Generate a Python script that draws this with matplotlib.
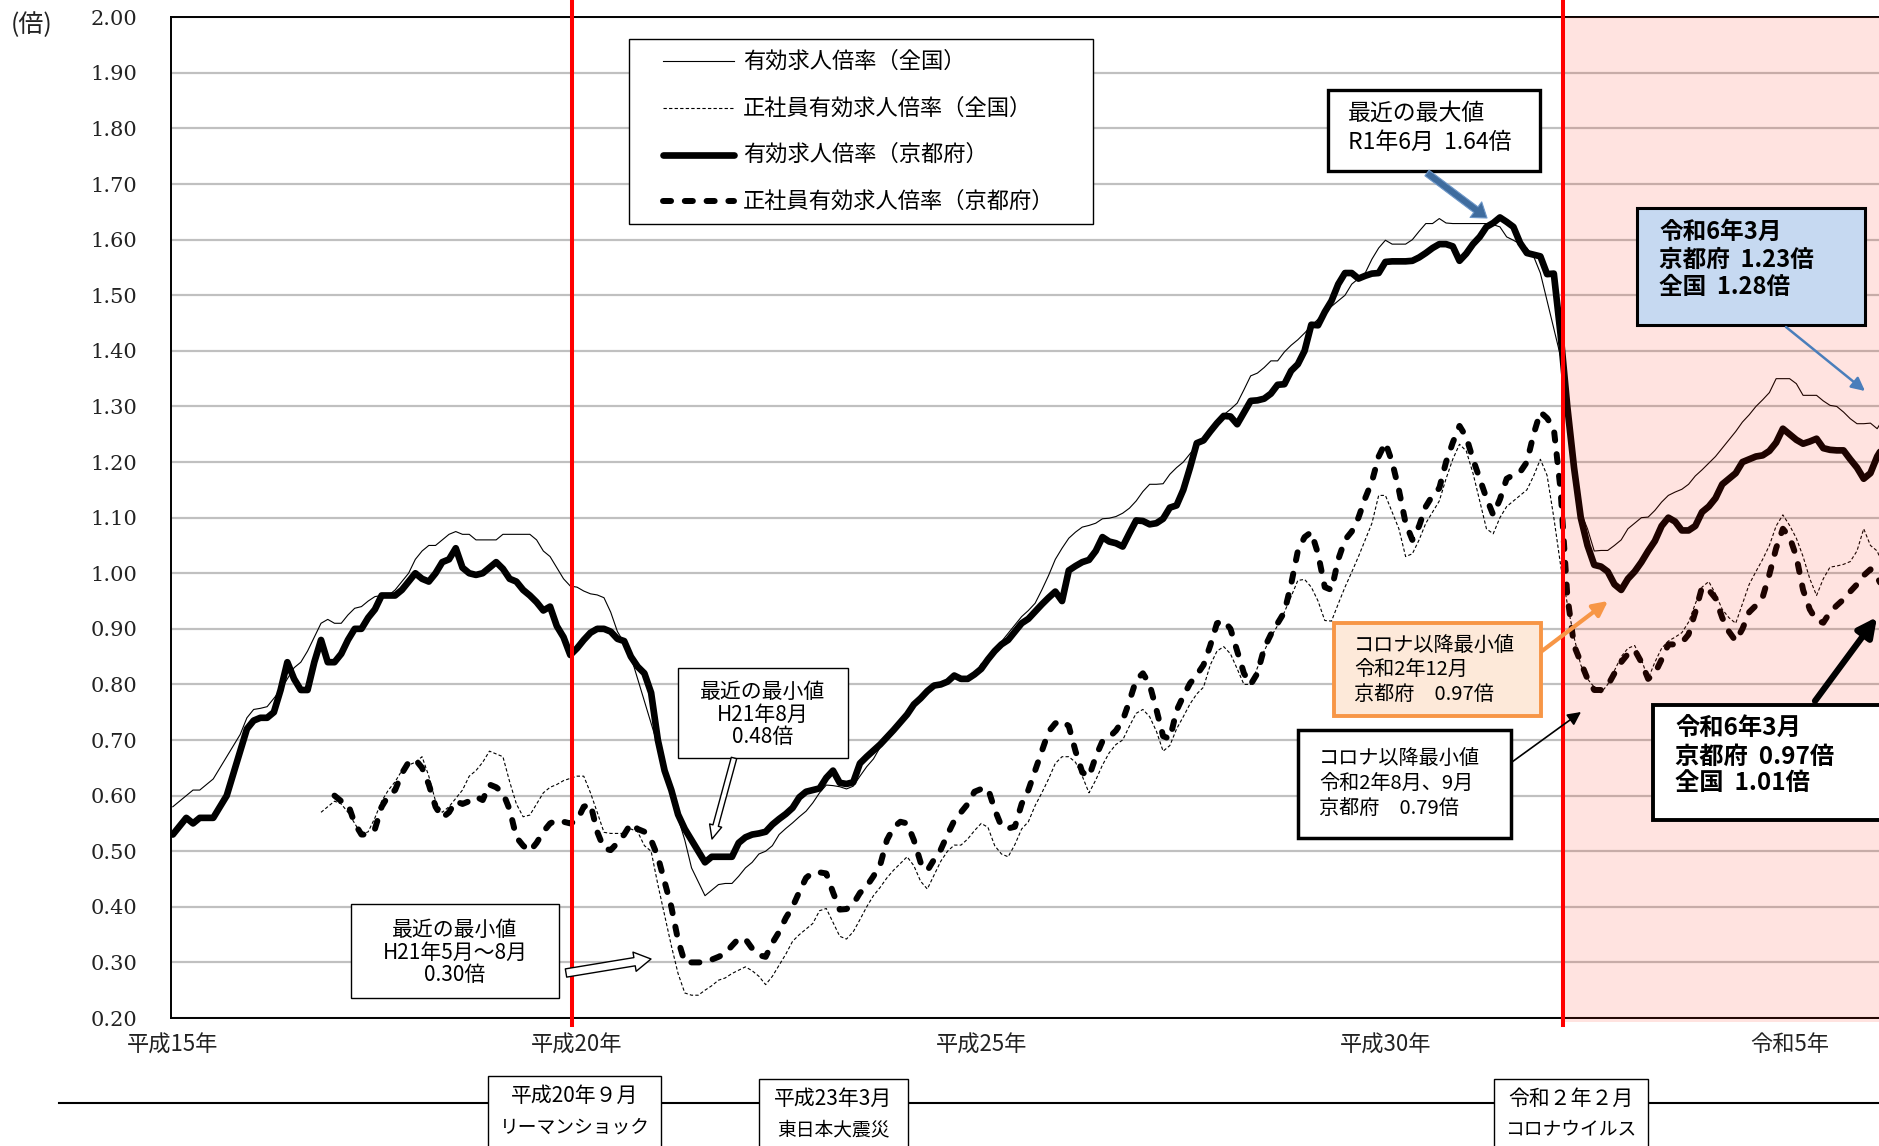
import numpy as np
import matplotlib.pyplot as plt
from matplotlib.patches import Rectangle, FancyArrowPatch
from matplotlib.lines import Line2D

plt.rcParams['font.family'] = ['Noto Sans CJK JP', 'DejaVu Sans']

W, H, DPI = 1879, 1146, 100

# 月次データ 平成15年1月〜令和6年3月
kyoto = [
    0.53, 0.545, 0.56, 0.55, 0.56, 0.56, 0.56, 0.58, 0.60, 0.64, 0.68, 0.72,        # H15
    0.735, 0.74, 0.74, 0.75, 0.79, 0.84, 0.81, 0.79, 0.79, 0.84, 0.88, 0.84,        # H16
    0.84, 0.855, 0.88, 0.90, 0.90, 0.92, 0.935, 0.96, 0.96, 0.96, 0.97, 0.985,      # H17
    1.00, 0.99, 0.985, 1.00, 1.02, 1.025, 1.045, 1.01, 1.00, 0.997, 1.00, 1.01,     # H18
    1.02, 1.008, 0.99, 0.985, 0.97, 0.96, 0.948, 0.933, 0.94, 0.905, 0.885, 0.853,  # H19
    0.865, 0.88, 0.893, 0.90, 0.90, 0.895, 0.882, 0.878, 0.85, 0.832, 0.82, 0.785, # H20
    0.70, 0.645, 0.61, 0.566, 0.54, 0.52, 0.50, 0.48, 0.49, 0.49, 0.49, 0.49,       # H21
    0.515, 0.525, 0.53, 0.532, 0.535, 0.548, 0.558, 0.567, 0.578, 0.597, 0.607, 0.61,
    0.613, 0.632, 0.645, 0.623, 0.621, 0.624, 0.658, 0.67, 0.681, 0.692, 0.705, 0.718,
    0.732, 0.746, 0.764, 0.775, 0.788, 0.798, 0.80, 0.805, 0.816, 0.81, 0.81, 0.818,
    0.828, 0.845, 0.86, 0.872, 0.88, 0.895, 0.91, 0.918, 0.931, 0.944, 0.956, 0.967,
    0.95, 1.005, 1.013, 1.02, 1.024, 1.04, 1.065, 1.057, 1.054, 1.048, 1.072, 1.095,
    1.094, 1.088, 1.09, 1.098, 1.118, 1.122, 1.15, 1.19, 1.234, 1.239, 1.255, 1.27,
    1.283, 1.282, 1.268, 1.289, 1.31, 1.311, 1.314, 1.323, 1.339, 1.34, 1.364, 1.376,
    1.40, 1.447, 1.446, 1.47, 1.49, 1.52, 1.54, 1.54, 1.53, 1.535, 1.539, 1.54,
    1.56, 1.561, 1.561, 1.561, 1.562, 1.568, 1.576, 1.585, 1.592, 1.592, 1.588, 1.562,
    1.575, 1.592, 1.605, 1.623, 1.63, 1.64, 1.632, 1.623, 1.594, 1.576, 1.573, 1.57,
    1.538, 1.539, 1.43, 1.30, 1.19, 1.10, 1.05, 1.015, 1.012, 1.003, 0.98, 0.97,     # R2
    0.99, 1.003, 1.02, 1.04, 1.058, 1.085, 1.10, 1.093, 1.077, 1.077, 1.085, 1.11,
    1.12, 1.135, 1.16, 1.17, 1.18, 1.20, 1.205, 1.21, 1.212, 1.22, 1.235, 1.26,
    1.25, 1.24, 1.233, 1.237, 1.242, 1.225, 1.222, 1.221, 1.221, 1.205, 1.19, 1.17,
    1.18, 1.21, 1.23,                                                               # R6
]

zenkoku = [
    0.58, 0.59, 0.60, 0.61, 0.61, 0.62, 0.63, 0.65, 0.67, 0.69, 0.71, 0.74,
    0.755, 0.757, 0.76, 0.775, 0.79, 0.81, 0.83, 0.84, 0.86, 0.885, 0.91, 0.917,
    0.91, 0.91, 0.925, 0.937, 0.94, 0.95, 0.958, 0.96, 0.96, 0.97, 0.985, 1.00,
    1.025, 1.04, 1.05, 1.05, 1.06, 1.07, 1.075, 1.07, 1.07, 1.06, 1.06, 1.06,
    1.06, 1.07, 1.07, 1.07, 1.07, 1.07, 1.06, 1.04, 1.03, 1.01, 0.99, 0.977,
    0.975, 0.968, 0.963, 0.961, 0.956, 0.93, 0.895, 0.875, 0.85, 0.81, 0.77, 0.73,
    0.69, 0.64, 0.60, 0.56, 0.52, 0.47, 0.445, 0.42, 0.43, 0.44, 0.442, 0.442,
    0.455, 0.47, 0.48, 0.495, 0.50, 0.51, 0.53, 0.541, 0.551, 0.562, 0.572, 0.587,
    0.605, 0.619, 0.618, 0.616, 0.612, 0.617, 0.635, 0.652, 0.666, 0.687, 0.701, 0.716,
    0.73, 0.742, 0.767, 0.78, 0.791, 0.794, 0.797, 0.808, 0.816, 0.811, 0.81, 0.818,
    0.837, 0.846, 0.861, 0.877, 0.892, 0.907, 0.922, 0.933, 0.946, 0.97, 0.996, 1.025,
    1.045, 1.063, 1.074, 1.083, 1.086, 1.09, 1.098, 1.099, 1.102, 1.108, 1.117, 1.13,
    1.147, 1.16, 1.16, 1.161, 1.178, 1.19, 1.20, 1.215, 1.23, 1.243, 1.256, 1.27,
    1.285, 1.295, 1.306, 1.33, 1.355, 1.36, 1.37, 1.382, 1.382, 1.398, 1.41, 1.42,
    1.432, 1.445, 1.457, 1.47, 1.48, 1.49, 1.50, 1.52, 1.53, 1.54, 1.565, 1.585,
    1.599, 1.592, 1.592, 1.592, 1.60, 1.615, 1.629, 1.629, 1.638, 1.63, 1.629, 1.629,
    1.629, 1.629, 1.629, 1.629, 1.627, 1.623, 1.605, 1.599, 1.592, 1.585, 1.57, 1.54,
    1.49, 1.44, 1.39, 1.32, 1.20, 1.11, 1.08, 1.04, 1.041, 1.041, 1.05, 1.06,
    1.08, 1.09, 1.10, 1.101, 1.113, 1.128, 1.14, 1.146, 1.151, 1.16, 1.175, 1.186,
    1.198, 1.21, 1.225, 1.24, 1.255, 1.272, 1.285, 1.30, 1.312, 1.325, 1.35, 1.35,
    1.35, 1.341, 1.32, 1.32, 1.32, 1.31, 1.302, 1.30, 1.29, 1.278, 1.269, 1.269,
    1.27, 1.26, 1.28,
]

# 正社員（全国）は平成16年11月から
zenkoku_seishain = [np.nan] * 22 + [
    0.57, 0.58,
    0.59, 0.585, 0.57, 0.55, 0.53, 0.535, 0.56, 0.59, 0.61, 0.625, 0.645, 0.655,
    0.66, 0.67, 0.635, 0.59, 0.57, 0.58, 0.595, 0.61, 0.635, 0.645, 0.66, 0.68,
    0.675, 0.67, 0.625, 0.585, 0.562, 0.565, 0.585, 0.605, 0.615, 0.62, 0.627, 0.631,
    0.635, 0.635, 0.605, 0.57, 0.534, 0.532, 0.532, 0.532, 0.54, 0.535, 0.51, 0.50,
    0.44, 0.385, 0.33, 0.28, 0.245, 0.241, 0.241, 0.25, 0.258, 0.268, 0.272, 0.28,
    0.286, 0.292, 0.285, 0.275, 0.26, 0.275, 0.295, 0.315, 0.338, 0.35, 0.36, 0.37,
    0.393, 0.397, 0.372, 0.347, 0.342, 0.355, 0.377, 0.40, 0.42, 0.435, 0.452, 0.466,
    0.478, 0.49, 0.474, 0.446, 0.432, 0.457, 0.482, 0.50, 0.511, 0.511, 0.522, 0.537,
    0.55, 0.543, 0.51, 0.495, 0.49, 0.512, 0.54, 0.553, 0.582, 0.605, 0.63, 0.658,
    0.67, 0.67, 0.66, 0.635, 0.605, 0.628, 0.655, 0.677, 0.692, 0.70, 0.725, 0.748,
    0.755, 0.742, 0.716, 0.68, 0.69, 0.72, 0.742, 0.765, 0.783, 0.795, 0.835, 0.86,
    0.868, 0.855, 0.828, 0.80, 0.80, 0.83, 0.86, 0.885, 0.906, 0.93, 0.958, 0.987,
    0.989, 0.975, 0.95, 0.915, 0.914, 0.945, 0.975, 1.002, 1.03, 1.06, 1.09, 1.14,
    1.14, 1.11, 1.08, 1.03, 1.035, 1.06, 1.09, 1.11, 1.13, 1.17, 1.205, 1.232,
    1.22, 1.18, 1.13, 1.08, 1.071, 1.10, 1.12, 1.13, 1.14, 1.15, 1.175, 1.205,
    1.176, 1.10, 1.015, 0.945, 0.885, 0.835, 0.81, 0.795, 0.785, 0.80, 0.825, 0.85,
    0.865, 0.87, 0.845, 0.81, 0.84, 0.865, 0.878, 0.885, 0.893, 0.912, 0.945, 0.975,
    0.985, 0.963, 0.935, 0.92, 0.91, 0.945, 0.98, 1.003, 1.025, 1.05, 1.085, 1.105,
    1.086, 1.063, 1.03, 0.99, 0.96, 0.99, 1.011, 1.013, 1.016, 1.021, 1.04, 1.08,
    1.05, 1.04, 1.01,
]

# 正社員（京都府）は平成17年1月から
kyoto_seishain = [np.nan] * 24 + [
    0.60, 0.59, 0.585, 0.55, 0.53, 0.53, 0.54, 0.58, 0.60, 0.61, 0.64, 0.66,
    0.665, 0.65, 0.62, 0.58, 0.56, 0.57, 0.59, 0.585, 0.59, 0.598, 0.592, 0.62,
    0.615, 0.605, 0.575, 0.525, 0.51, 0.50, 0.515, 0.535, 0.55, 0.556, 0.553, 0.55,
    0.555, 0.58, 0.585, 0.535, 0.505, 0.502, 0.515, 0.53, 0.55, 0.54, 0.535, 0.52,
    0.49, 0.445, 0.40, 0.34, 0.30, 0.30, 0.30, 0.30, 0.305, 0.31, 0.316, 0.33,
    0.343, 0.342, 0.325, 0.313, 0.31, 0.335, 0.355, 0.38, 0.40, 0.427, 0.452, 0.462,
    0.462, 0.46, 0.426, 0.395, 0.396, 0.405, 0.425, 0.437, 0.455, 0.475, 0.52, 0.543,
    0.553, 0.55, 0.52, 0.48, 0.465, 0.485, 0.503, 0.53, 0.555, 0.57, 0.585, 0.607,
    0.612, 0.613, 0.575, 0.545, 0.541, 0.544, 0.585, 0.61, 0.645, 0.68, 0.715, 0.73,
    0.735, 0.725, 0.68, 0.642, 0.634, 0.67, 0.698, 0.705, 0.717, 0.735, 0.77, 0.808,
    0.82, 0.80, 0.755, 0.707, 0.702, 0.753, 0.779, 0.802, 0.817, 0.835, 0.87, 0.91,
    0.915, 0.90, 0.86, 0.82, 0.80, 0.82, 0.865, 0.89, 0.91, 0.93, 0.98, 1.04,
    1.065, 1.074, 1.035, 0.975, 0.97, 1.025, 1.06, 1.075, 1.10, 1.135, 1.165, 1.21,
    1.235, 1.20, 1.15, 1.09, 1.06, 1.085, 1.12, 1.14, 1.153, 1.20, 1.235, 1.265,
    1.245, 1.205, 1.17, 1.135, 1.105, 1.133, 1.17, 1.177, 1.182, 1.20, 1.25, 1.29,
    1.279, 1.26, 1.15, 0.96, 0.87, 0.84, 0.81, 0.79, 0.79, 0.798, 0.82, 0.84,
    0.855, 0.862, 0.84, 0.81, 0.82, 0.845, 0.872, 0.872, 0.875, 0.89, 0.93, 0.975,
    0.97, 0.955, 0.92, 0.895, 0.878, 0.90, 0.93, 0.942, 0.957, 0.998, 1.045, 1.08,
    1.065, 1.03, 0.97, 0.935, 0.915, 0.911, 0.93, 0.942, 0.953, 0.967, 0.98, 0.996,
    1.007, 0.993, 0.97,
]

tick_months = [0, 60, 120, 180, 240]
tick_labels = ['平成15年', '平成20年', '平成25年', '平成30年', '令和5年']
event_months = [59.2, 206.3]

legend_labels = ['有効求人倍率（全国）', '正社員有効求人倍率（全国）',
                 '有効求人倍率（京都府）', '正社員有効求人倍率（京都府）']

months = np.arange(len(kyoto))

fig = plt.figure(figsize=(W / DPI, H / DPI), dpi=DPI)
ax = fig.add_axes([171 / W, (H - 1018) / H, (W - 171) / W, (1018 - 17.3) / H])

styles = [
    dict(color='black', lw=0.8, zorder=4),
    dict(color='black', lw=0.8, ls=(0, (3, 2)), zorder=4),
    dict(color='black', lw=4.8, solid_joinstyle='round', solid_capstyle='round', zorder=3),
    dict(color='black', lw=4.3, ls=(0, (1.35, 2.3)), dash_capstyle='round', zorder=3),
]

ax.plot(months, kyoto, **styles[2])
ax.plot(months, kyoto_seishain, **styles[3])
ax.plot(months, zenkoku, **styles[0])
ax.plot(months, zenkoku_seishain, **styles[1])

yticks = np.round(np.arange(0.2, 2.001, 0.1), 2)
ax.set_xlim(-0.27, 253.27)
ax.set_ylim(0.2, 2.0)
ax.set_yticks(yticks, [f'{v:.2f}' for v in yticks])
ax.set_xticks(tick_months, tick_labels)
for t in ax.get_yticklabels():
    t.set_fontfamily(['DejaVu Serif'])
    t.set_fontsize(15)
    t.set_color('#222222')
for t in ax.get_xticklabels():
    t.set_fontsize(16)
    t.set_color('#222222')
ax.tick_params(axis='y', length=0, pad=24)
ax.tick_params(axis='x', length=0, pad=11)
ax.yaxis.grid(True, color='#C0C0C0', lw=1.6)
ax.set_axisbelow(True)
for side in ['left', 'top', 'bottom']:
    ax.spines[side].set_linewidth(1.4)
ax.spines['right'].set_visible(False)

# コロナ以降の網掛けとイベントの縦線
ax.axvspan(event_months[1], 260, ymin=-0.004, ymax=1.0, fc='#FF2000', alpha=0.12,
           lw=0, zorder=5, clip_on=False)
for m in event_months:
    ax.plot([m, m], [0.188, 2.035], color='#FF0000', lw=2.9, zorder=6, clip_on=False)

fig.text(32 / W, 1 - 25 / H, '(倍)', fontsize=18, ha='center', va='center',
         color='#222222')


def fp(x, y):
    return (x / DPI, (H - y) / DPI)


def box(x0, y0, x1, y1, fc='white', ec='black', lw=1.0, z=6):
    fig.add_artist(Rectangle(fp(x0, y1), (x1 - x0) / DPI, (y1 - y0) / DPI,
                             transform=fig.dpi_scale_trans, fc=fc, ec=ec, lw=lw,
                             zorder=z))


def label(x, y, s, size=16.5, ha='left', weight='normal'):
    fig.text(x / W, 1 - y / H, s, fontsize=size, ha=ha, va='center',
             fontweight=weight, zorder=9)


def arrow(p0, p1, **kw):
    fig.add_artist(FancyArrowPatch(fp(*p0), fp(*p1), transform=fig.dpi_scale_trans,
                                   shrinkA=0, shrinkB=0, zorder=8, **kw))


# 凡例
box(629, 39.5, 1093, 224, lw=1.0)
legend_rows = [61.1, 107.9, 154.6, 201.3]
for y, st, text in zip(legend_rows, styles, legend_labels):
    st = {k: v for k, v in st.items() if k != 'zorder'}
    fig.add_artist(Line2D([663 / DPI, 734 / DPI], [(H - y) / DPI] * 2,
                          transform=fig.dpi_scale_trans, zorder=7, **st))
    label(743, y, text, size=16)

# 注記ボックス
box(1328, 90, 1540, 171, lw=2.4)
label(1348, 113, '最近の最大値')
label(1348, 142, f'R1年6月  {kyoto[197]:.2f}倍')
arrow((1427, 173), (1487, 218), arrowstyle='simple,head_length=10,head_width=14,tail_width=5',
      fc='#3F6C9E', ec='#6C96C8', lw=0.8)

box(1637, 208, 1865, 325, fc='#C6D9F1', lw=2.2)
label(1659, 232, '令和6年3月', weight='bold', size=17)
label(1659, 260, f'京都府  {kyoto[254]:.2f}倍', weight='bold', size=17)
label(1659, 287, f'全国  {zenkoku[254]:.2f}倍', weight='bold', size=17)
arrow((1786, 327), (1865, 391), arrowstyle='-|>', mutation_scale=20, lw=1.8,
      color='#4A7EBB')

box(1334, 623, 1541, 716, fc='#FDE9D9', ec='#F79646', lw=2.8)
label(1354, 645, 'コロナ以降最小値', size=14.5)
label(1354, 669, '令和2年12月', size=14.5)
label(1354, 694, f'京都府　{kyoto[215]:.2f}倍', size=14.5)
arrow((1542, 651), (1608, 601), arrowstyle='-|>', mutation_scale=22, lw=3,
      color='#F79646')

box(1298, 730, 1511, 838, lw=2.5)
label(1319, 758, 'コロナ以降最小値', size=14.5)
label(1319, 783, '令和2年8月、9月', size=14.5)
label(1319, 808, f'京都府　{kyoto_seishain[211]:.2f}倍', size=14.5)
arrow((1512, 762), (1581, 712), arrowstyle='-|>', mutation_scale=20, lw=1.2,
      color='black')

box(1653, 705, 1900, 820, lw=2.8)
label(1675, 728, '令和6年3月', size=17.5, weight='bold')
label(1675, 757, f'京都府  {kyoto_seishain[254]:.2f}倍', size=17.5, weight='bold')
label(1675, 783, f'全国  {zenkoku_seishain[254]:.2f}倍', size=17.5, weight='bold')
arrow((1815, 701), (1877, 617), arrowstyle='-|>', mutation_scale=28, lw=4.5,
      color='black')

box(678, 668, 848, 758, lw=1.0)
label(763, 692, '最近の最小値', size=15, ha='center')
label(763, 715, 'H21年8月', size=15, ha='center')
label(763, 737, f'{kyoto[79]:.2f}倍', size=15, ha='center')
arrow((734, 758), (712, 839), arrowstyle='simple,head_length=10,head_width=9,tail_width=4',
      fc='white', ec='black', lw=1.0)

box(351, 904, 559, 998, lw=1.0)
label(455, 930, '最近の最小値', size=15, ha='center')
label(455, 953, 'H21年5月～8月', size=15, ha='center')
label(455, 975, f'{kyoto_seishain[76]:.2f}倍', size=15, ha='center')
arrow((566, 973), (651, 959), arrowstyle='simple,head_length=12,head_width=14,tail_width=6',
      fc='white', ec='black', lw=1.0)

# 下部の出来事
fig.add_artist(Line2D([59 / DPI, W / DPI], [(H - 1103) / DPI] * 2,
                      transform=fig.dpi_scale_trans, color='black', lw=1.5, zorder=5))
events = [
    (488, 661, 1076, '平成20年９月', 'リーマンショック'),
    (759, 908, 1079, '平成23年3月', '東日本大震災'),
    (1494, 1648, 1079, '令和２年２月', 'コロナウイルス'),
]
for x0, x1, y0, top, bottom in events:
    box(x0, y0, x1, H + 20, lw=1.0)
    label((x0 + x1) / 2, y0 + 20, top, size=15, ha='center')
    label((x0 + x1) / 2, y0 + 51, bottom, size=13.5, ha='center')

fig.savefig('out.png', dpi=DPI)
